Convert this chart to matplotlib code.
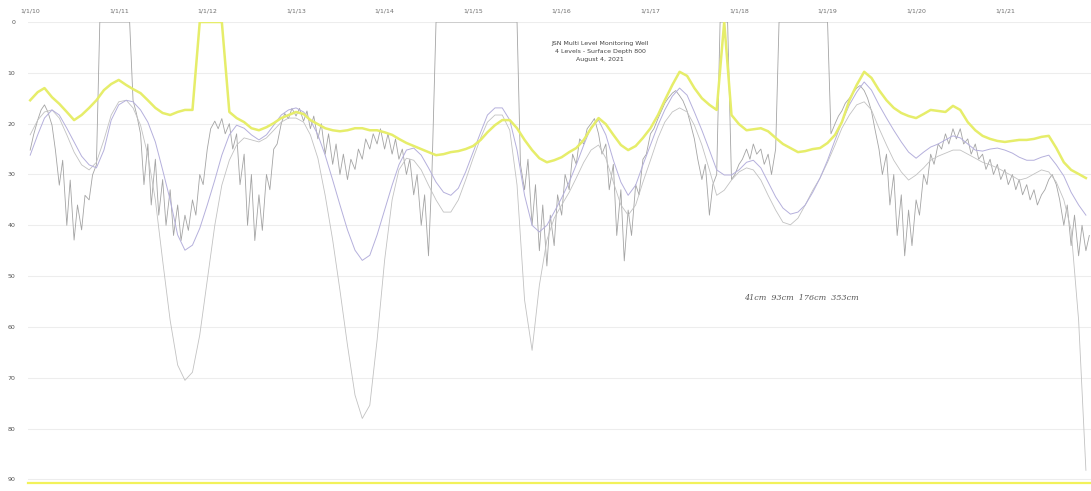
import matplotlib
matplotlib.use("Agg")
import matplotlib.pyplot as plt
import pandas as pd
from datetime import datetime

# monthly readings, Jan 2010 - Dec 2021 (depth below surface)
monthly = pd.date_range("2010-01-01", periods=144, freq="MS")
semimonthly = pd.date_range("2010-01-01", periods=288, freq="SMS")

level_41 = [
    15.4, 13.8, 13.0, 14.8, 16.1, 17.7, 19.3, 18.3, 16.9, 15.4, 13.4, 12.2,
    11.4, 12.4, 13.2, 14.0, 15.4, 16.9, 17.9, 18.3, 17.7, 17.3, 17.3, 0.0,
    0.0, 0.0, 0.0, 17.7, 18.9, 19.7, 20.9, 21.3, 20.7, 19.9, 18.9, 18.3,
    17.7, 18.1, 19.3, 20.1, 20.9, 21.3, 21.5, 21.3, 20.9, 20.9, 21.3, 21.3,
    21.7, 22.2, 23.0, 23.8, 24.4, 25.0, 25.6, 26.2, 26.0, 25.6, 25.4, 25.0,
    24.4, 23.2, 21.7, 20.3, 19.3, 19.3, 20.9, 23.2, 25.2, 26.8, 27.6, 27.2,
    26.6, 25.6, 24.8, 23.2, 20.9, 18.9, 20.1, 22.2, 24.2, 25.2, 24.4, 22.8,
    20.9, 18.3, 15.4, 12.4, 9.8, 10.6, 13.0, 15.0, 16.3, 17.3, 0.0, 18.3,
    20.1, 21.3, 21.1, 20.9, 21.5, 22.8, 24.0, 24.8, 25.6, 25.4, 25.0, 24.8,
    23.8, 22.2, 19.7, 15.4, 12.4, 9.8, 11.0, 13.4, 15.4, 16.9, 17.9, 18.5,
    18.9, 18.1, 17.3, 17.5, 17.7, 16.5, 17.3, 19.7, 21.3, 22.4, 23.0, 23.4,
    23.6, 23.4, 23.2, 23.2, 23.0, 22.6, 22.4, 24.8, 27.6, 29.1, 29.9, 30.7,
]

level_93 = [
    26.2, 22.2, 18.9, 17.3, 18.3, 20.9, 23.6, 26.4, 28.1, 28.7, 25.2, 19.3,
    16.3, 15.4, 15.7, 17.3, 19.7, 23.6, 29.1, 35.0, 41.9, 44.9, 43.9, 40.6,
    36.0, 31.1, 26.2, 22.2, 20.3, 20.9, 22.2, 23.2, 22.2, 20.3, 18.3, 17.3,
    16.9, 17.7, 19.3, 22.2, 26.2, 31.1, 36.0, 40.9, 44.9, 46.9, 45.9, 41.9,
    37.0, 32.1, 28.1, 25.2, 24.8, 26.2, 28.7, 31.5, 33.5, 34.1, 32.7, 29.5,
    25.6, 21.7, 18.3, 16.9, 16.9, 19.3, 25.2, 34.1, 40.0, 41.3, 40.0, 37.4,
    34.6, 31.5, 28.1, 24.2, 20.7, 19.3, 22.2, 27.2, 31.5, 34.1, 32.1, 28.1,
    24.2, 20.3, 17.3, 14.6, 13.0, 14.4, 17.7, 21.3, 25.2, 29.1, 30.1, 30.1,
    29.1, 27.6, 27.2, 28.7, 31.5, 34.4, 36.6, 37.8, 37.4, 36.0, 33.5, 30.7,
    27.2, 23.2, 19.7, 16.3, 13.8, 11.8, 13.4, 16.3, 18.9, 21.3, 23.6, 25.6,
    26.8, 25.6, 24.6, 24.0, 23.2, 22.4, 22.8, 24.0, 25.2, 25.4, 25.0, 24.8,
    25.2, 25.8, 26.6, 27.2, 27.2, 26.6, 26.2, 28.1, 30.3, 33.5, 36.0, 38.0,
]

level_176 = [
    22.2, 19.3, 17.7, 17.3, 18.9, 22.2, 25.6, 28.1, 29.1, 27.6, 23.2, 18.3,
    15.7, 15.4, 16.9, 20.3, 26.2, 35.0, 46.9, 58.7, 67.5, 70.5, 68.9, 61.6,
    50.8, 40.0, 32.1, 27.2, 24.2, 22.8, 23.2, 23.6, 22.8, 21.3, 19.7, 18.9,
    18.9, 19.7, 22.2, 26.8, 34.1, 42.9, 52.8, 63.6, 73.4, 78.0, 75.4, 62.6,
    46.9, 35.0, 29.1, 26.8, 27.2, 29.1, 32.1, 35.0, 37.4, 37.4, 35.0, 31.1,
    26.8, 22.8, 19.7, 18.3, 18.3, 21.3, 32.1, 54.7, 64.6, 51.8, 42.9, 38.6,
    36.0, 33.5, 30.7, 27.6, 25.2, 24.2, 26.8, 31.5, 36.0, 38.0, 36.0, 31.5,
    27.2, 22.8, 19.7, 17.7, 16.9, 17.7, 20.3, 24.2, 29.1, 34.1, 33.1, 31.1,
    29.5, 28.7, 29.1, 31.1, 34.1, 37.0, 39.4, 39.9, 38.6, 36.0, 33.1, 30.7,
    27.6, 24.2, 20.9, 18.3, 16.3, 15.7, 17.3, 20.9, 24.2, 27.2, 29.5, 31.1,
    30.1, 28.7, 27.2, 26.4, 25.8, 25.2, 25.2, 26.0, 26.8, 27.6, 28.1, 28.7,
    29.5, 30.3, 31.1, 30.7, 29.9, 29.1, 29.5, 31.5, 35.0, 40.9, 58.7, 88.2,
]

# twice-monthly readings, one row per half year; 0 where the logger dropped out
level_353 = [
    25.2, 22.2, 19.3, 17.3, 16.3, 17.7, 20.3, 25.2, 32.1, 27.2, 40.0, 31.1,
    42.9, 36.0, 40.9, 34.1, 35.0, 30.1, 28.1, 0.0, 0.0, 0.0, 0.0, 0.0,
    0.0, 0.0, 0.0, 0.0, 15.4, 18.0, 22.0, 32.0, 24.0, 36.0, 27.0, 38.0,
    31.0, 40.0, 33.0, 42.0, 36.0, 43.0, 38.0, 41.0, 35.0, 38.0, 30.0, 32.0,
    25.0, 21.0, 19.5, 21.0, 19.0, 22.0, 20.0, 25.0, 22.0, 32.0, 26.0, 40.0,
    30.0, 43.0, 34.0, 41.0, 30.0, 33.0, 25.0, 24.0, 20.0, 18.0, 19.0, 17.0,
    18.5, 17.0, 19.5, 17.5, 21.0, 18.5, 23.0, 20.0, 26.0, 22.0, 28.0, 24.0,
    30.0, 26.0, 31.0, 27.0, 29.0, 25.0, 27.0, 23.0, 25.0, 22.0, 24.0, 21.0,
    25.0, 22.0, 26.0, 23.0, 27.0, 25.0, 30.0, 27.0, 34.0, 30.0, 40.0, 34.0,
    46.0, 30.0, 0.0, 0.0, 0.0, 0.0, 0.0, 0.0, 0.0, 0.0, 0.0, 0.0,
    0.0, 0.0, 0.0, 0.0, 0.0, 0.0, 0.0, 0.0, 0.0, 0.0, 0.0, 0.0,
    0.0, 28.0, 33.0, 27.0, 40.0, 32.0, 45.0, 36.0, 48.0, 38.0, 44.0, 34.0,
    38.0, 30.0, 33.0, 26.0, 28.0, 23.0, 24.0, 21.0, 20.0, 19.0, 22.0, 26.0,
    24.0, 33.0, 28.0, 42.0, 33.0, 47.0, 37.0, 42.0, 32.0, 34.0, 27.0, 26.0,
    22.0, 21.0, 19.0, 17.5, 16.0, 15.0, 14.0, 13.5, 14.5, 15.5, 17.5, 20.0,
    23.0, 27.0, 31.0, 28.0, 38.0, 32.0, 30.0, 0.0, 0.0, 0.0, 31.0, 30.0,
    28.0, 27.0, 25.0, 27.0, 24.0, 26.0, 25.0, 28.0, 26.0, 30.0, 25.0, 0.0,
    0.0, 0.0, 0.0, 0.0, 0.0, 0.0, 0.0, 0.0, 0.0, 0.0, 0.0, 0.0,
    0.0, 22.0, 20.0, 18.5, 17.5, 16.0, 15.0, 14.0, 13.0, 12.5, 13.5, 15.0,
    17.5, 21.0, 25.0, 30.0, 26.0, 36.0, 30.0, 42.0, 34.0, 46.0, 37.0, 44.0,
    35.0, 38.0, 30.0, 32.0, 26.0, 28.0, 24.0, 25.0, 22.0, 24.0, 21.0, 23.0,
    21.0, 24.0, 23.0, 26.0, 24.0, 27.0, 26.0, 29.0, 27.0, 30.0, 28.0, 31.0,
    29.0, 32.0, 30.0, 33.0, 31.0, 34.0, 32.0, 35.0, 33.0, 36.0, 34.0, 33.0,
    31.0, 30.0, 32.0, 35.0, 40.0, 36.0, 44.0, 38.0, 46.0, 40.0, 45.0, 42.0,
]

year_ticks = [datetime(y, 1, 1) for y in range(2010, 2022)]
tick_labels = ["1/1/10", "1/1/11", "1/1/12", "1/1/13", "1/1/14", "1/1/15",
               "1/1/16", "1/1/17", "1/1/18", "1/1/19", "1/1/20", "1/1/21"]
depth_ticks = [0, 10, 20, 30, 40, 50, 60, 70, 80, 90]

title_lines = "JSN Multi Level Monitoring Well\n4 Levels - Surface Depth 800\nAugust 4, 2021"
legend_text = "41cm  93cm  176cm  353cm"

fig = plt.figure(figsize=(10.91, 4.91), dpi=100)
ax = fig.add_axes([28 / 1091, 8 / 491, 1063 / 1091, 461 / 491])

ax.plot(semimonthly, level_353, color="#a4a4a4", lw=0.6)
ax.plot(monthly, level_176, color="#c2c2c2", lw=0.6)
ax.plot(monthly, level_93, color="#b5b0dc", lw=0.7)
ax.plot(monthly, level_41, color="#e6ed6a", lw=1.8)

ax.set_ylim(90.7, 0)
ax.set_xlim(datetime(2009, 12, 23), datetime(2021, 12, 22))

ax.xaxis.tick_top()
ax.set_xticks(year_ticks)
ax.set_xticklabels(tick_labels)
ax.set_yticks(depth_ticks)
ax.set_yticklabels([str(v) for v in depth_ticks])
ax.tick_params(axis="x", length=0, pad=6, labelsize=4.5, labelcolor="#6f6f6f")
ax.tick_params(axis="y", length=0, pad=9, labelsize=4.5, labelcolor="#555555")

ax.grid(axis="y", color="#ededed", lw=0.8)
ax.set_axisbelow(True)
for side in ["top", "left", "right"]:
    ax.spines[side].set_visible(False)
ax.spines["bottom"].set_color("#f2f25a")
ax.spines["bottom"].set_linewidth(1.6)

fig.text(600 / 1091, 1 - 52 / 491, title_lines, ha="center", va="center",
         fontsize=4.5, color="#444444", linespacing=1.75)
fig.text(801 / 1091, 1 - 298 / 491, legend_text, ha="center", va="center",
         fontsize=5.8, color="#555555", family="DejaVu Serif", style="italic")

fig.savefig("out.png", dpi=100)
